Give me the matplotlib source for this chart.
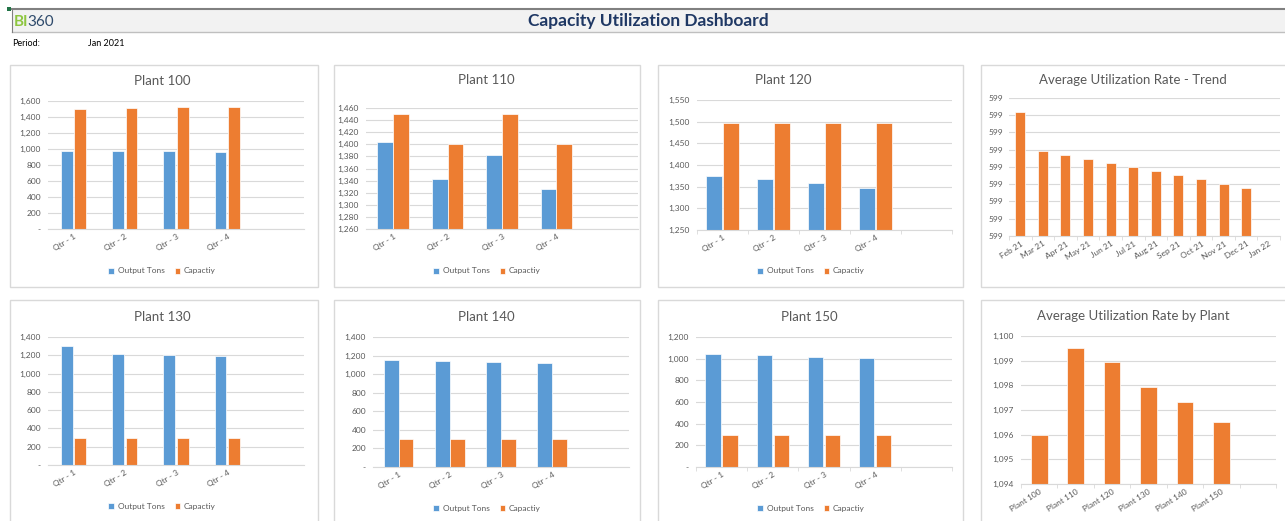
import matplotlib.pyplot as plt
from matplotlib.patches import Rectangle
from matplotlib.lines import Line2D
from matplotlib.ticker import FuncFormatter, MultipleLocator

plt.rcParams['font.family'] = ['Lato', 'DejaVu Sans']

# ---- data ----
quarters = ['Qtr - 1', 'Qtr - 2', 'Qtr - 3', 'Qtr - 4']
p100_out = [975, 975, 975, 965]
p100_cap = [1500, 1510, 1520, 1520]
p110_out = [1403, 1343, 1383, 1326]
p110_cap = [1450, 1400, 1450, 1400]
p120_out = [1375, 1367, 1358, 1348]
p120_cap = [1498, 1498, 1498, 1498]
p130_out = [1305, 1215, 1205, 1197]
p130_cap = [300, 300, 300, 300]
p140_out = [1150, 1140, 1130, 1120]
p140_cap = [300, 300, 300, 300]
p150_out = [1040, 1030, 1015, 1008]
p150_cap = [295, 295, 295, 295]

months = ['Feb 21', 'Mar 21', 'Apr 21', 'May 21', 'Jun 21', 'Jul 21',
          'Aug 21', 'Sep 21', 'Oct 21', 'Nov 21', 'Dec 21', 'Jan 22']
trend_rate = [599.160, 599.047, 599.034, 599.023, 599.013, 599.001,
              598.989, 598.977, 598.965, 598.952, 598.940]

plants = ['Plant 100', 'Plant 110', 'Plant 120', 'Plant 130', 'Plant 140', 'Plant 150']
plant_rate = [1096.0, 1099.5, 1098.95, 1097.92, 1097.32, 1096.52]

BLUE = '#5B9BD5'
ORANGE = '#ED7D31'
TXT = '#595959'
GRID = '#D9D9D9'

W, H = 1285, 521
fig = plt.figure(figsize=(W / 100, H / 100), dpi=100)
fig.patch.set_facecolor('white')


def fx(x):
    return x / W


def fy(y):
    return 1 - y / H


def px_axes(x0, y0, x1, y1):
    return fig.add_axes([fx(x0), fy(y1), (x1 - x0) / W, (y1 - y0) / H])


def comma(v, pos):
    if abs(v) < 1e-9:
        return '-'
    return '{:,.0f}'.format(v)


def panel(x0, y0, x1, y1):
    fig.patches.append(Rectangle((fx(x0), fy(y1)), (x1 - x0) / W, (y1 - y0) / H,
                                 transform=fig.transFigure, facecolor='white',
                                 edgecolor=GRID, lw=1, zorder=-5))


def style(ax, ylo, yhi, step, between_ticks=False):
    ax.set_ylim(ylo, yhi)
    ax.yaxis.set_major_locator(MultipleLocator(step))
    ax.yaxis.set_major_formatter(FuncFormatter(comma))
    ax.grid(axis='y', color=GRID, lw=0.8)
    ax.set_axisbelow(True)
    for s in ['top', 'right', 'left']:
        ax.spines[s].set_visible(False)
    ax.spines['bottom'].set_color(GRID)
    ax.tick_params(axis='y', length=0, labelsize=6, labelcolor=TXT, pad=5)
    ax.tick_params(axis='x', which='major', length=0, labelsize=6, labelcolor=TXT, pad=3)
    ax.patch.set_alpha(0)
    if between_ticks:
        n = int(round(ax.get_xlim()[1] + 0.5))
        ax.set_xticks([i - 0.5 for i in range(n + 1)], minor=True)
        ax.tick_params(axis='x', which='minor', length=3, color=GRID)


def qtr_chart(rect, title, tpos, lpos, out, cap, ylo, yhi, step, bw, gap,
              between=False):
    ax = px_axes(*rect)
    x = list(range(len(quarters)))
    b1 = ax.bar([i - bw / 2 - gap / 2 for i in x], out, bw, color=BLUE,
                edgecolor='white', lw=0.5, label='Output Tons')
    b2 = ax.bar([i + bw / 2 + gap / 2 for i in x], cap, bw, color=ORANGE,
                edgecolor='white', lw=0.5, label='Capactiy')
    ax.set_xlim(-0.5, 4.5)
    ax.set_xticks(x)
    ax.set_xticklabels(quarters, rotation=32, ha='right', rotation_mode='anchor')
    style(ax, ylo, yhi, step, between)
    fig.text(fx(tpos[0]), fy(tpos[1]), title, ha='center', va='center',
             fontsize=9.5, color=TXT)
    fig.legend(handles=[b1, b2], loc='center', bbox_to_anchor=(fx(lpos[0]), fy(lpos[1])),
               ncol=2, frameon=False, fontsize=6, handlelength=0.7, handleheight=0.7,
               handletextpad=0.4, columnspacing=1.2, labelcolor=TXT)
    return ax


# ---- header ----
fig.patches.append(Rectangle((fx(12), fy(32)), (W - 12) / W, 24 / H,
                             transform=fig.transFigure, facecolor='#F2F2F2',
                             edgecolor='none', zorder=-5))
fig.add_artist(Line2D([fx(12), 1], [fy(9), fy(9)], color='#808080', lw=1.5))
fig.add_artist(Line2D([fx(12), 1], [fy(32), fy(32)], color='#BFBFBF', lw=1))
fig.add_artist(Line2D([fx(12), fx(12)], [fy(9), fy(32)], color='#808080', lw=0.8))
fig.patches.append(Rectangle((fx(7), fy(11)), 4 / W, 4 / H, transform=fig.transFigure,
                             facecolor='#217346', edgecolor='none'))
fig.text(fx(14), fy(22), 'BI', color='#8DC63F', fontsize=11, va='center', ha='left',
         fontweight='bold')
fig.text(fx(27), fy(22), '360', color='#2E4A6B', fontsize=11, va='center', ha='left')
fig.text(fx(648), fy(21), 'Capacity Utilization Dashboard', ha='center', va='center',
         fontsize=12.5, fontweight='bold', color='#1F3864')
fig.text(fx(12), fy(43), 'Period:', fontsize=6.5, va='center', color='black')
fig.text(fx(88), fy(43), 'Jan 2021', fontsize=6.5, va='center', color='black')

# ---- panels ----
for (x0, x1) in [(10, 318), (334, 640), (658, 963), (981, 1290)]:
    panel(x0, 65, x1, 287)
    panel(x0, 300, x1, 525)

qtr_chart((48, 101, 304, 229), 'Plant 100', (162, 81), (162, 271),
          p100_out, p100_cap, 0, 1600, 200, 0.23, 0.03)
qtr_chart((366, 108, 638, 229), 'Plant 110', (486, 80), (487, 271),
          p110_out, p110_cap, 1260, 1460, 20, 0.29, 0.0)
qtr_chart((697, 100, 952, 230), 'Plant 120', (783, 80), (811, 271),
          p120_out, p120_cap, 1250, 1550, 50, 0.3, 0.03, between=True)
qtr_chart((48, 337, 304, 465), 'Plant 130', (162, 317), (162, 506),
          p130_out, p130_cap, 0, 1400, 200, 0.23, 0.03)
qtr_chart((373, 337, 629, 467), 'Plant 140', (486, 317), (487, 508),
          p140_out, p140_cap, 0, 1400, 200, 0.29, 0.0)
qtr_chart((696, 337, 952, 467), 'Plant 150', (809, 317), (811, 508),
          p150_out, p150_cap, 0, 1200, 200, 0.3, 0.03, between=True)

# ---- trend ----
ax = px_axes(1009, 98, 1280, 236)
ax.bar(range(len(trend_rate)), trend_rate, 0.44, color=ORANGE, edgecolor='white', lw=0.5)
ax.set_xlim(-0.5, len(months) - 0.5)
ax.set_xticks(range(len(months)))
ax.set_xticklabels(months, rotation=32, ha='right', rotation_mode='anchor')
style(ax, 598.80, 599.20, 0.05, True)
ax.tick_params(axis='y', pad=4)
fig.text(fx(1133), fy(80), 'Average Utilization Rate - Trend', ha='center', va='center',
         fontsize=9.5, color=TXT)

# ---- by plant ----
ax = px_axes(1021, 336, 1276, 484)
ax.bar(range(len(plant_rate)), plant_rate, 0.46, color=ORANGE, edgecolor='white', lw=0.5)
ax.set_xlim(-0.5, 6.5)
ax.set_xticks(range(len(plants)))
ax.set_xticklabels(plants, rotation=32, ha='right', rotation_mode='anchor')
style(ax, 1094, 1100, 1, True)
fig.text(fx(1133), fy(316), 'Average Utilization Rate by Plant', ha='center', va='center',
         fontsize=9.5, color=TXT)

fig.savefig('out.png', dpi=100)
